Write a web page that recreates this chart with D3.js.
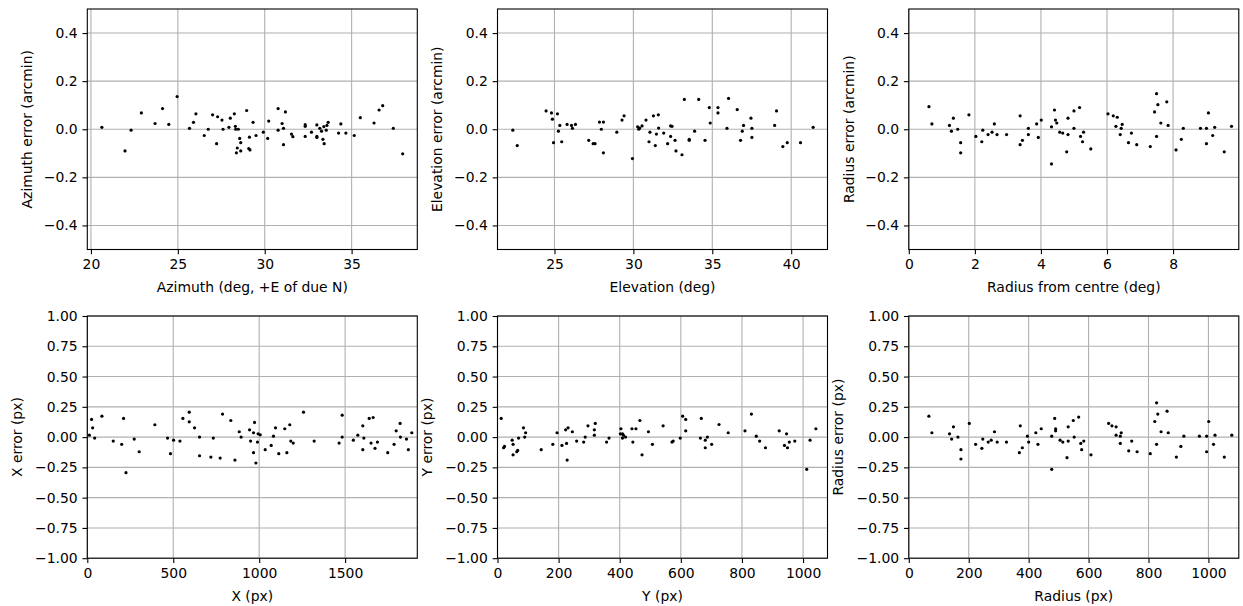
<!DOCTYPE html>
<html>
<head>
<meta charset="utf-8">
<script src="https://cdn.jsdelivr.net/npm/d3@7"></script>
<style>
body { margin: 0; background: #fff; }
svg text { font-family: "DejaVu Sans", sans-serif; font-size: 13.9px; fill: #000; }
</style>
</head>
<body>
<script>
// Residuals, one pair of arrays per panel.
var azimuth    = [20.63,21.96,22.31,22.9,23.69,24.12,24.48,24.96,25.67,25.9,26.04,26.52,26.75,27.0,27.23,27.29,27.54,27.6,27.94,28.02,28.25,28.31,28.33,28.48,28.37,28.42,28.56,28.62,28.62,28.96,29.08,29.15,29.12,29.33,29.5,29.92,30.17,30.23,30.77,30.77,31.0,31.08,31.08,31.19,31.54,31.62,32.33,32.33,32.33,32.69,33.0,33.0,33.0,33.17,33.27,33.35,33.4,33.42,33.54,33.58,33.65,34.25,34.38,34.67,35.15,35.5,36.29,36.58,36.79,37.4,37.94];
var azimuthErr = [0.008,-0.09,-0.004,0.068,0.024,0.086,0.02,0.136,0.004,0.029,0.064,-0.026,0.0,0.06,-0.06,0.052,0.038,0.0,0.008,0.046,0.064,0.012,0.0,0.0,-0.098,-0.078,-0.038,-0.056,-0.09,0.078,-0.08,-0.086,-0.033,0.029,-0.026,-0.012,-0.038,0.034,0.086,-0.004,0.024,0.004,-0.064,0.072,-0.02,-0.031,0.019,0.012,-0.03,-0.012,0.018,-0.03,-0.034,0.004,-0.008,-0.042,0.011,-0.06,-0.004,0.016,0.029,-0.016,0.022,-0.016,-0.026,0.048,0.026,0.08,0.098,0.004,-0.102];

var elevation    = [22.36,22.64,24.47,24.81,24.87,25.19,25.34,25.25,24.94,25.46,25.8,26.08,26.14,26.33,27.17,27.45,27.57,27.85,28.1,27.97,28.1,28.95,29.28,29.41,29.94,30.27,30.34,30.4,30.55,30.8,30.99,31.05,31.27,31.39,31.46,31.58,31.6,31.92,32.17,32.36,32.45,32.36,32.64,32.7,33.08,33.23,33.54,33.54,33.88,34.14,34.54,34.81,34.87,35.36,35.36,35.93,36.03,36.58,36.79,36.9,36.98,37.45,37.51,37.51,38.95,39.07,39.47,39.75,40.59,41.39];
var elevationErr = [-0.004,-0.068,0.076,0.068,0.042,0.064,0.016,-0.008,-0.056,-0.052,0.02,0.016,0.004,0.02,-0.046,-0.06,-0.06,0.03,0.03,0.0,-0.098,-0.012,0.038,0.056,-0.122,0.01,0.0,0.005,0.014,0.038,-0.052,-0.012,0.056,-0.068,-0.02,0.06,0.005,-0.016,-0.06,0.014,0.012,-0.03,-0.046,-0.09,-0.106,0.124,-0.042,-0.046,-0.008,0.124,-0.046,0.09,0.026,0.09,0.068,0.004,0.128,0.082,-0.046,-0.008,0.016,0.046,0.004,-0.034,0.016,0.076,-0.072,-0.056,-0.056,0.008];

var radiusDeg    = [0.61,0.7,1.23,1.29,1.35,1.48,1.57,1.57,1.82,2.03,2.21,2.24,2.4,2.52,2.59,2.67,2.96,3.37,3.37,3.44,3.62,3.62,3.87,3.92,4.01,4.32,4.32,4.41,4.44,4.48,4.57,4.66,4.78,4.82,4.82,5.0,5.0,5.17,5.2,5.26,5.29,5.51,6.03,6.19,6.31,6.27,6.43,6.46,6.4,6.65,6.74,6.9,7.31,7.44,7.5,7.54,7.5,7.63,7.81,7.85,8.09,8.25,8.31,8.83,9.01,9.01,9.07,9.2,9.26,9.55,9.77];
var radiusDegErr = [0.094,0.022,0.016,-0.008,0.046,0.0,-0.056,-0.098,0.06,-0.03,-0.052,-0.004,-0.022,-0.012,0.022,-0.022,-0.022,0.056,-0.064,-0.046,0.004,-0.022,0.022,-0.034,0.038,-0.144,0.01,0.08,0.038,0.026,-0.012,-0.016,-0.094,-0.022,0.046,0.076,0.004,0.09,-0.03,-0.052,-0.012,-0.082,0.064,0.056,0.05,0.012,0.004,0.02,-0.022,-0.056,-0.016,-0.064,-0.072,0.072,0.148,0.102,-0.03,0.026,0.114,0.016,-0.086,-0.042,0.004,0.004,0.004,-0.06,0.068,-0.026,0.008,-0.094,0.012];

var xPx    = [12,25,31,43,85,151,200,211,225,273,302,393,467,484,502,539,556,593,593,624,653,653,733,719,773,787,835,859,884,895,944,950,967,973,967,981,990,994,1006,1035,1070,1083,1095,1114,1149,1161,1178,1184,1198,1258,1320,1465,1483,1483,1548,1574,1603,1609,1603,1640,1663,1651,1674,1688,1748,1785,1797,1820,1822,1857,1868,1888];
var xPxErr = [0.016,0.146,0.077,-0.008,0.173,-0.033,-0.06,0.154,-0.294,-0.016,-0.121,0.102,-0.008,-0.137,-0.025,-0.033,0.154,0.126,0.206,0.077,0.0,-0.154,-0.008,-0.165,-0.173,0.19,0.137,-0.19,0.044,0.0,0.06,-0.033,0.036,0.121,-0.129,-0.214,-0.041,0.027,0.019,-0.104,-0.069,0.008,0.077,-0.137,0.069,-0.129,0.102,-0.033,-0.049,0.206,-0.033,-0.049,0.181,0.0,-0.025,0.016,0.093,-0.008,-0.104,0.154,0.162,-0.049,-0.093,-0.041,-0.129,-0.06,0.052,0.113,0.0,-0.016,-0.104,0.036];

var yPx    = [12,20,23,48,51,51,63,66,69,85,92,89,143,181,195,211,226,223,231,228,245,259,282,287,296,317,317,320,357,365,404,402,409,412,409,419,440,453,443,466,473,494,507,542,571,575,598,606,616,616,664,667,680,687,680,701,725,755,810,831,847,858,877,922,946,939,949,955,973,1012,1023,1042];
var yPxErr = [0.154,-0.088,-0.077,-0.025,-0.06,-0.146,-0.121,-0.11,-0.008,0.077,0.036,0.0,-0.104,-0.06,0.036,-0.069,-0.052,0.06,0.077,-0.19,0.044,-0.033,-0.041,0.0,0.093,0.06,0.016,0.113,-0.041,-0.008,0.069,0.027,0.027,0.016,-0.008,0.0,0.069,0.069,-0.041,0.137,-0.146,0.044,-0.06,0.093,-0.041,-0.033,-0.008,0.173,0.146,0.052,-0.008,0.154,-0.025,0.0,-0.088,-0.06,0.104,0.036,0.052,0.19,0.008,-0.033,-0.088,0.052,0.027,-0.069,-0.088,-0.041,-0.033,-0.266,-0.025,0.069];

var radiusPx    = [67,77,136,143,149,164,174,174,202,223,244,247,265,275,286,295,326,372,369,379,396,400,424,431,442,477,477,487,490,490,505,514,528,532,532,549,552,567,574,577,584,608,667,678,692,692,706,709,706,734,744,762,806,821,827,831,827,842,862,866,893,908,918,970,994,994,1001,1017,1022,1053,1078];
var radiusPxErr = [0.173,0.036,0.027,-0.016,0.085,0.0,-0.104,-0.181,0.113,-0.06,-0.093,-0.016,-0.041,-0.025,0.044,-0.041,-0.041,0.093,-0.129,-0.088,0.008,-0.041,0.036,-0.06,0.069,-0.266,0.008,0.154,0.069,0.052,-0.025,-0.041,-0.17,-0.033,0.085,0.137,0.0,0.165,-0.052,-0.104,-0.033,-0.146,0.113,0.093,0.085,0.016,0.008,0.036,-0.052,-0.113,-0.033,-0.121,-0.137,0.129,0.283,0.19,-0.06,0.044,0.214,0.036,-0.165,-0.077,0.008,0.008,0.008,-0.121,0.129,-0.06,0.016,-0.165,0.016];

// Tick labels
var azTicks = [20, 25, 30, 35],
    elTicks = [25, 30, 35, 40],
    radDegTicks = [0, 2, 4, 6, 8],
    xPxTicks = [0, 500, 1000, 1500],
    yPxTicks = [0, 200, 400, 600, 800, 1000],
    radPxTicks = [0, 200, 400, 600, 800, 1000],
    arcminTicks = [-0.4, -0.2, 0, 0.2, 0.4],
    pxErrTicks = [-1, -0.75, -0.5, -0.25, 0, 0.25, 0.5, 0.75, 1];

var width = 1243, height = 606,
    plotW = 330,
    colLeft = [87.3, 497.5, 908.8],
    rowTop = [9, 316],
    rowH = [240.5, 242.2],
    tick = 4.86, pad = 4.86;

var svg = d3.select("body")
            .append("svg")
            .attr("width", width)
            .attr("height", height);

var panels = [
  {xs: azimuth, ys: azimuthErr, xDom: [19.79, 38.78], xTicks: azTicks, yDom: [-0.5, 0.5], yTicks: arcminTicks, yFmt: ".1f",
   xLabel: "Azimuth (deg, +E of due N)", yLabel: "Azimuth error (arcmin)", col: 0, row: 0, yLabOff: 55.3},
  {xs: elevation, ys: elevationErr, xDom: [21.39, 42.3], xTicks: elTicks, yDom: [-0.5, 0.5], yTicks: arcminTicks, yFmt: ".1f",
   xLabel: "Elevation (deg)", yLabel: "Elevation error (arcmin)", col: 1, row: 0, yLabOff: 55.3},
  {xs: radiusDeg, ys: radiusDegErr, xDom: [0, 9.99], xTicks: radDegTicks, yDom: [-0.5, 0.5], yTicks: arcminTicks, yFmt: ".1f",
   xLabel: "Radius from centre (deg)", yLabel: "Radius error (arcmin)", col: 2, row: 0, yLabOff: 55.3},
  {xs: xPx, ys: xPxErr, xDom: [0, 1920], xTicks: xPxTicks, yDom: [-1, 1], yTicks: pxErrTicks, yFmt: ".2f",
   xLabel: "X (px)", yLabel: "X error (px)", col: 0, row: 1, yLabOff: 65.5},
  {xs: yPx, ys: yPxErr, xDom: [0, 1080], xTicks: yPxTicks, yDom: [-1, 1], yTicks: pxErrTicks, yFmt: ".2f",
   xLabel: "Y (px)", yLabel: "Y error (px)", col: 1, row: 1, yLabOff: 65.5},
  {xs: radiusPx, ys: radiusPxErr, xDom: [0, 1101.4], xTicks: radPxTicks, yDom: [-1, 1], yTicks: pxErrTicks, yFmt: ".2f",
   xLabel: "Radius (px)", yLabel: "Radius error (px)", col: 2, row: 1, yLabOff: 65.5}
];

panels.forEach(function(p) {
  var w = plotW, h = rowH[p.row];
  var g = svg.append("g")
             .attr("transform", "translate(" + colLeft[p.col] + "," + rowTop[p.row] + ")");

  var x = d3.scaleLinear().domain(p.xDom).range([0, w]);
  var y = d3.scaleLinear().domain(p.yDom).range([h, 0]);

  // grid
  g.selectAll(".vgrid").data(p.xTicks).enter().append("line")
   .attr("x1", function(d) { return x(d); }).attr("x2", function(d) { return x(d); })
   .attr("y1", 0).attr("y2", h)
   .attr("stroke", "#b0b0b0").attr("stroke-width", 1.1);
  g.selectAll(".hgrid").data(p.yTicks).enter().append("line")
   .attr("y1", function(d) { return y(d); }).attr("y2", function(d) { return y(d); })
   .attr("x1", 0).attr("x2", w)
   .attr("stroke", "#b0b0b0").attr("stroke-width", 1.1);

  // points
  g.selectAll("circle").data(p.xs).enter().append("circle")
   .attr("cx", function(d) { return x(d); })
   .attr("cy", function(d, i) { return y(p.ys[i]); })
   .attr("r", 1.6)
   .attr("fill", "#000");

  // axes
  var xAxis = g.append("g").attr("transform", "translate(0," + h + ")")
               .call(d3.axisBottom(x).tickValues(p.xTicks).tickSize(tick).tickPadding(pad).tickFormat(d3.format("d")));
  var yAxis = g.append("g")
               .call(d3.axisLeft(y).tickValues(p.yTicks).tickSize(tick).tickPadding(pad).tickFormat(d3.format(p.yFmt)));
  [xAxis, yAxis].forEach(function(a) {
    a.select(".domain").remove();
    a.selectAll("line").attr("stroke", "#000").attr("stroke-width", 1.1);
    a.selectAll("text").attr("fill", "#000").style("font-size", "13.9px").attr("font-family", null);
  });

  // spines
  g.append("rect").attr("width", w).attr("height", h)
   .attr("fill", "none").attr("stroke", "#000").attr("stroke-width", 1.1);

  // axis labels
  g.append("text")
   .attr("x", w / 2).attr("y", h + 42.3)
   .attr("text-anchor", "middle")
   .text(p.xLabel);
  g.append("text")
   .attr("transform", "translate(" + (-p.yLabOff) + "," + (h / 2) + ") rotate(-90)")
   .attr("text-anchor", "middle")
   .text(p.yLabel);
});
</script>
</body>
</html>
